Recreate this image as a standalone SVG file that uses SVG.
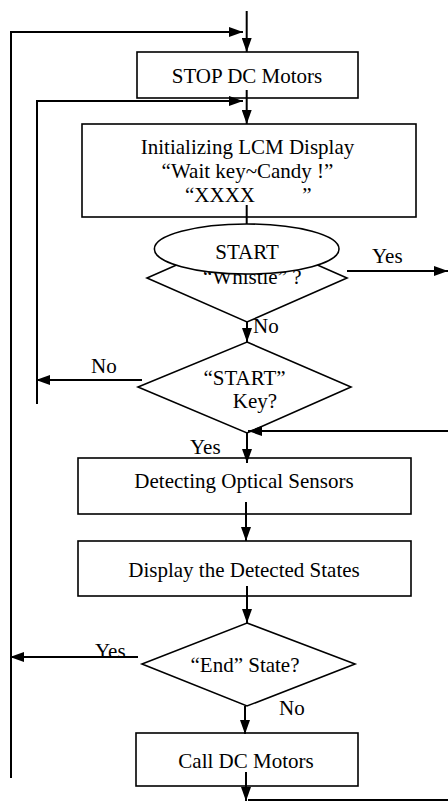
<svg xmlns="http://www.w3.org/2000/svg" width="448" height="804" viewBox="0 0 448 804">
<style>
text{font-family:"Liberation Serif","Times New Roman",serif;font-size:21px;fill:#000}
.c{text-anchor:middle}
.box{fill:#fff;stroke:#000;stroke-width:1.6}
.ln{fill:none;stroke:#000;stroke-width:2}
.arr{marker-end:url(#ah)}
</style>
<defs>
<marker id="ah" markerUnits="userSpaceOnUse" markerWidth="14" markerHeight="10" refX="14" refY="5" orient="auto">
<path d="M0,0 L14,5 L0,10 Z" fill="#000"/>
</marker>
</defs>
<rect width="448" height="804" fill="#fff"/>
<g id="stop">
<rect class="box" x="137" y="52" width="221" height="46"/>
<text class="c" x="247" y="83">STOP DC Motors</text>
</g>
<g id="init">
<rect class="box" x="82" y="124" width="334" height="93"/>
<text class="c" x="247.5" y="154">Initializing LCM Display</text>
<text class="c" x="247.5" y="178">“Wait key~Candy !”</text>
<text x="185" y="202" xml:space="preserve" style="white-space:pre">“XXXX         ”</text>
</g>
<g id="whistle">
<polygon class="box" points="247,234 347,278 247,322 147,278"/>
<text x="203" y="284">“Whistle” ?</text>
<ellipse class="box" cx="246.7" cy="249" rx="92.3" ry="25"/>
<text class="c" x="247" y="259">START</text>
</g>
<g id="startkey">
<polygon class="box" points="247,342 351,387 247,433 138,387"/>
<text class="c" x="244.5" y="385">“START”</text>
<text class="c" x="255" y="408">Key?</text>
</g>
<g id="detect">
<rect class="box" x="78" y="458" width="333" height="56"/>
<text class="c" x="244" y="488">Detecting Optical Sensors</text>
</g>
<g id="display">
<rect class="box" x="78" y="541" width="333" height="55"/>
<text class="c" x="244" y="577">Display the Detected States</text>
</g>
<g id="endstate">
<polygon class="box" points="247,623 355,664 247,706 142,664"/>
<text class="c" x="245" y="672">“End” State?</text>
</g>
<g id="call">
<rect class="box" x="136" y="733" width="222" height="53"/>
<text class="c" x="246" y="768">Call DC Motors</text>
</g>
<g id="connectors">
<line class="ln arr" x1="246.7" y1="11" x2="246.7" y2="52"/>
<polyline class="ln arr" points="11,778 11,32 243,32"/>
<line class="ln arr" x1="246.7" y1="90" x2="246.7" y2="124"/>
<polyline class="ln arr" points="37,404 37,101 243,101"/>
<line class="ln" x1="246.7" y1="205" x2="246.7" y2="224"/>
<line class="ln arr" x1="347" y1="271" x2="448" y2="271"/>
<line class="ln arr" x1="247" y1="322" x2="247" y2="342"/>
<line class="ln arr" x1="142" y1="380" x2="36" y2="380"/>
<line class="ln arr" x1="448" y1="431" x2="248" y2="431"/>
<line class="ln arr" x1="247" y1="433" x2="247" y2="463"/>
<line class="ln arr" x1="246" y1="502" x2="246" y2="541"/>
<line class="ln arr" x1="247" y1="586" x2="247" y2="623"/>
<line class="ln arr" x1="138" y1="657" x2="10" y2="657"/>
<line class="ln arr" x1="245" y1="706" x2="245" y2="734"/>
<line class="ln arr" x1="246" y1="772" x2="246" y2="801"/>
<line class="ln" x1="248" y1="800" x2="448" y2="800"/>
</g>
<g id="labels">
<text x="372" y="263">Yes</text>
<text x="253" y="333">No</text>
<text x="91" y="373">No</text>
<text x="190" y="454">Yes</text>
<text x="95" y="658">Yes</text>
<text x="279" y="715">No</text>
</g>
</svg>
